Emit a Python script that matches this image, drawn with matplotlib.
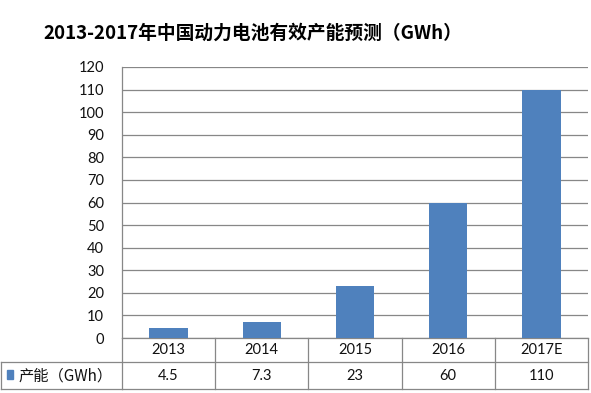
import matplotlib
matplotlib.use("Agg")
import matplotlib.pyplot as plt
from matplotlib.transforms import blended_transform_factory

categories = ["2013", "2014", "2015", "2016", "2017E"]
capacity = [4.5, 7.3, 23, 60, 110]
value_labels = ["4.5", "7.3", "23", "60", "110"]
series_name = "产能（GWh）"
title = "2013-2017年中国动力电池有效产能预测（GWh）"
yticks = list(range(0, 121, 10))

plt.rcParams['font.family'] = ['Lato', 'Noto Sans CJK SC', 'DejaVu Sans']

W, H = 591, 393
fig = plt.figure(figsize=(W / 100, H / 100), dpi=100)
fig.patch.set_facecolor('white')

def fx(px):
    return px / W

def fy(py):
    return 1 - py / H

left, right, top, bottom = 122, 588, 67, 338
ax = fig.add_axes([fx(left), fy(bottom), fx(right) - fx(left), fy(top) - fy(bottom)])

bar_color = '#4F81BD'
grid_color = '#878787'
x = list(range(len(categories)))
ax.bar(x, capacity, width=0.41, color=bar_color, zorder=3)
ax.set_xlim(-0.5, len(categories) - 0.5)
ax.set_ylim(0, 120)
ax.set_yticks(yticks)
ax.set_yticklabels([str(t) for t in yticks], fontsize=10.5, color='#111111')
ax.tick_params(axis='y', length=0, pad=13)
ax.set_xticks([])
for sp in ['top', 'right', 'bottom']:
    ax.spines[sp].set_visible(False)
ax.spines['left'].set_color(grid_color)
ax.spines['left'].set_linewidth(0.9)
ax.yaxis.grid(True, color=grid_color, linewidth=0.9, zorder=0)
ax.set_axisbelow(True)

# Data table below the axis
tr = blended_transform_factory(ax.transData, fig.transFigure)
y_top, y_mid, y_bot = fy(338), fy(362), fy(389)
lw = 0.9
n = len(categories)
ax.plot([-0.5, n - 0.5], [y_top, y_top], transform=tr, color=grid_color, lw=lw, clip_on=False)
ax.plot([-0.5, n - 0.5], [y_bot, y_bot], transform=tr, color=grid_color, lw=lw, clip_on=False)
fig.add_artist(plt.Line2D([fx(1), fx(right)], [y_mid, y_mid], color=grid_color, lw=lw))
fig.add_artist(plt.Line2D([fx(1), fx(left)], [y_bot, y_bot], color=grid_color, lw=lw))
fig.add_artist(plt.Line2D([fx(1), fx(1)], [y_mid, y_bot], color=grid_color, lw=lw))
for b in [i - 0.5 for i in range(n + 1)]:
    ax.plot([b, b], [y_top, y_bot], transform=tr, color=grid_color, lw=lw, clip_on=False)

for i, (c, v) in enumerate(zip(categories, value_labels)):
    ax.text(i, fy(350), c, transform=tr, ha='center', va='center', fontsize=10.5, color='#111111')
    ax.text(i, fy(376), v, transform=tr, ha='center', va='center', fontsize=10.5, color='#111111')

fig.add_artist(plt.Rectangle((fx(7), fy(379)), fx(6), fy(370) - fy(379), color=bar_color, transform=fig.transFigure))
fig.text(fx(19), fy(376), series_name, ha='left', va='center', fontsize=11, color='#111111',
         family=['Noto Sans CJK SC', 'DejaVu Sans'])

fig.text(fx(253), fy(33), title, ha='center', va='center', fontsize=13.5, fontweight='heavy',
         family=['Noto Sans CJK SC', 'DejaVu Sans'], color='black')

fig.savefig('out.png', dpi=100)
